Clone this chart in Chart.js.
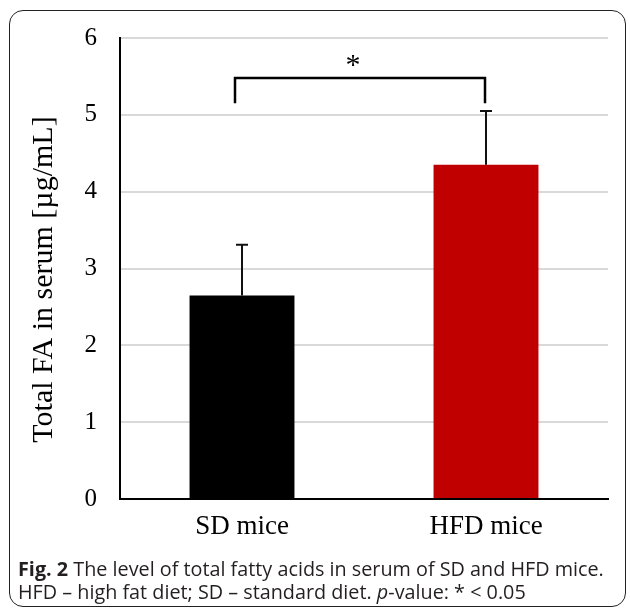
<!DOCTYPE html>
<html>
<head>
<meta charset="utf-8">
<script src="https://cdn.jsdelivr.net/npm/chart.js@4.4.1/dist/chart.umd.min.js"></script>
<style>
  html, body { margin: 0; padding: 0; background: #fff; }
  #wrap { position: relative; width: 630px; height: 611px; overflow: hidden; }
  #frame { position: absolute; left: 9px; top: 10px; width: 617px; height: 597px;
           border: 1.5px solid #222; border-radius: 14px; box-sizing: border-box; }
  #c { position: absolute; left: 0; top: 0; }
  #caption { position: absolute; left: 18px; top: 557px; width: 612px; white-space: nowrap;
             font-family: "Open Sans", sans-serif; font-size: 19.8px; line-height: 23px; color: #231f20; }
  #caption b { font-weight: 700; }
</style>
</head>
<body>
<div id="wrap">
  <div id="frame"></div>
  <canvas id="c" width="630" height="611"></canvas>
  <div id="caption"><b>Fig. 2</b> The level of total fatty acids in serum of SD and HFD mice.<br>HFD – high fat diet; SD – standard diet. <i>p</i>-value: * &lt; 0.05</div>
</div>
<script>
const categories = ["SD mice", "HFD mice"];
const meanValues = [2.65, 4.35];
const errorValues = [0.66, 0.70];
const barColors = ["#000000", "#c00000"];
const yTicks = [0, 1, 2, 3, 4, 5, 6];
const bracketLevels = [5.15, 5.48];   // bottom of legs, top of bracket (data units)
const significanceMark = "*";
const yTitle = "Total FA in serum [µg/mL]";

const errorBarPlugin = {
  id: "errorBars",
  afterDatasetsDraw(chart) {
    const ctx = chart.ctx;
    const x = chart.scales.x, y = chart.scales.y;
    ctx.save();
    ctx.strokeStyle = "#111";
    ctx.lineWidth = 2;
    meanValues.forEach((v, i) => {
      const px = x.getPixelForValue(i);
      const y0 = y.getPixelForValue(v);
      const y1 = y.getPixelForValue(v + errorValues[i]);
      ctx.beginPath();
      ctx.moveTo(px, y0); ctx.lineTo(px, y1);
      ctx.moveTo(px - 6, y1); ctx.lineTo(px + 6, y1);
      ctx.stroke();
    });
    // significance bracket
    const xl = x.getPixelForValue(0) - 7;
    const xr = x.getPixelForValue(1) - 1;
    const yb = y.getPixelForValue(bracketLevels[0]);
    const yt = y.getPixelForValue(bracketLevels[1]);
    ctx.lineWidth = 2.5;
    ctx.strokeStyle = "#000";
    ctx.beginPath();
    ctx.moveTo(xl, yb); ctx.lineTo(xl, yt); ctx.lineTo(xr, yt); ctx.lineTo(xr, yb);
    ctx.stroke();
    ctx.fillStyle = "#000";
    ctx.font = "30px 'Liberation Serif'";
    ctx.textAlign = "center";
    ctx.textBaseline = "middle";
    ctx.fillText(significanceMark, (xl + xr) / 2 - 7, yt - 12);
    // y axis title
    ctx.save();
    ctx.translate(44, (y.top + y.bottom) / 2 + 11);
    ctx.rotate(-Math.PI / 2);
    ctx.font = "30px 'Liberation Serif'";
    ctx.fillText(yTitle, 0, 0);
    ctx.restore();
    ctx.restore();
  }
};

new Chart(document.getElementById("c"), {
  type: "bar",
  data: {
    labels: categories,
    datasets: [{
      data: meanValues,
      backgroundColor: barColors,
      borderWidth: 0,
      barPercentage: 0.43,
      categoryPercentage: 1.0
    }]
  },
  options: {
    responsive: false,
    animation: false,
    events: [],
    layout: { padding: { left: 0, right: 22, top: 37, bottom: 20 } },
    plugins: { legend: { display: false }, tooltip: { enabled: false } },
    scales: {
      x: {
        grid: { display: false, drawTicks: false },
        border: { display: true, color: "#000", width: 2 },
        ticks: { color: "#000", font: { family: "'Liberation Serif'", size: 27 }, padding: 12 },
        afterFit(scale) { scale.height = 92; }
      },
      y: {
        min: 0, max: 6,
        afterBuildTicks(scale) { scale.ticks = yTicks.map(v => ({ value: v })); },
        grid: { color: "#d9d9d9", lineWidth: 2, drawTicks: false },
        border: { display: true, color: "#000", width: 2 },
        ticks: { color: "#000", font: { family: "'Liberation Serif'", size: 25 }, padding: 23 },
        afterFit(scale) { scale.width = 120; }
      }
    }
  },
  plugins: [errorBarPlugin]
});
</script>
</body>
</html>
